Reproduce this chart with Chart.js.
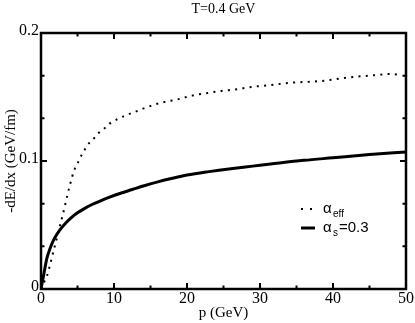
<!DOCTYPE html>
<html>
<head>
<meta charset="utf-8">
<script src="https://cdn.jsdelivr.net/npm/chart.js@4/dist/chart.umd.min.js"></script>
<style>
  body { margin: 0; background: #fff; }
  #wrap { width: 415px; height: 323px; }
</style>
</head>
<body>
<div id="wrap"><canvas id="lossChart" width="415" height="323"></canvas></div>
<script>
// energy loss at T=0.4 GeV
const pSolid = [0, 0.4, 0.8, 1.2, 1.7, 2.2, 2.7, 3.3, 4, 5, 6, 7, 8, 9.5, 11, 12.5, 14, 16, 18, 20, 23, 26, 29, 32, 36, 40, 45, 50];
const lossSolid = [0, 0.012, 0.024, 0.031, 0.038, 0.043, 0.047, 0.051, 0.055, 0.0595, 0.063, 0.066, 0.0685, 0.072, 0.075, 0.0777, 0.0805, 0.0837, 0.0865, 0.089, 0.0917, 0.094, 0.096, 0.098, 0.1005, 0.1025, 0.105, 0.107];

const pDotted = [0, 0.4, 0.8, 1.2, 1.6, 2.0, 2.4, 2.8, 3.2, 3.6, 4.0, 4.5, 5.0, 5.5, 6.0, 6.6, 7.3, 8.0, 8.8, 9.6, 10.6, 11.6, 12.6, 14.5, 16.5, 18.6, 20.6, 22.7, 24.7, 26.8, 29, 31, 34, 38.4, 42.5, 45.7, 47.7, 49.3];
const lossDotted = [0, 0.005, 0.010, 0.018, 0.027, 0.036, 0.045, 0.054, 0.063, 0.073, 0.082, 0.092, 0.098, 0.104, 0.109, 0.114, 0.118, 0.1225, 0.126, 0.130, 0.133, 0.1357, 0.1378, 0.142, 0.1456, 0.148, 0.151, 0.153, 0.1547, 0.156, 0.158, 0.159, 0.161, 0.1625, 0.1655, 0.167, 0.168, 0.1672];

const xTickLabels = [0, 10, 20, 30, 40, 50];
const xMinorTicks = [5, 15, 25, 35, 45];
const yTickLabels = [0, 0.1, 0.2];
const yMinorTicks = [0.2 / 6, 0.4 / 6, 0.8 / 6, 1.0 / 6];

const serif = '"Liberation Serif", "DejaVu Serif", serif';
const sans = '"Liberation Sans", Arial, sans-serif';

function toPoints(xs, ys) {
    return xs.map(function(x, i) { return { x: x, y: ys[i] }; });
}

// frame, inward ticks, labels and legend, drawn with the chart's scales
const framePlugin = {
    id: 'frame',
    afterDraw: function(chart) {
        const ctx = chart.ctx;
        const a = chart.chartArea;
        const xs = chart.scales.x;
        const ys = chart.scales.y;
        ctx.save();
        ctx.strokeStyle = '#000';
        ctx.lineWidth = 2.5;
        ctx.strokeRect(a.left, a.top, a.right - a.left, a.bottom - a.top);

        ctx.lineWidth = 2;
        function xTick(v, len) {
            const px = xs.getPixelForValue(v);
            ctx.beginPath();
            ctx.moveTo(px, a.bottom); ctx.lineTo(px, a.bottom - len);
            ctx.moveTo(px, a.top); ctx.lineTo(px, a.top + len);
            ctx.stroke();
        }
        function yTick(v, len) {
            const py = ys.getPixelForValue(v);
            ctx.beginPath();
            ctx.moveTo(a.left, py); ctx.lineTo(a.left + len, py);
            ctx.moveTo(a.right, py); ctx.lineTo(a.right - len, py);
            ctx.stroke();
        }
        xTickLabels.forEach(function(v) { xTick(v, 6); });
        xMinorTicks.forEach(function(v) { xTick(v, 3.5); });
        yTickLabels.forEach(function(v) { yTick(v, 6); });
        yMinorTicks.forEach(function(v) { yTick(v, 3.5); });

        ctx.fillStyle = '#000';
        ctx.font = '16px ' + serif;
        ctx.textAlign = 'center';
        ctx.textBaseline = 'top';
        xTickLabels.forEach(function(v) {
            ctx.fillText(String(v), xs.getPixelForValue(v), a.bottom + 2);
        });
        ctx.textAlign = 'right';
        ctx.textBaseline = 'middle';
        yTickLabels.forEach(function(v) {
            ctx.fillText(String(v), a.left - 2, ys.getPixelForValue(v) - 2);
        });

        // titles
        ctx.font = '15px ' + serif;
        ctx.textAlign = 'center';
        ctx.textBaseline = 'middle';
        ctx.fillText('p (GeV)', (a.left + a.right) / 2, 313);
        ctx.font = '14px ' + serif;
        ctx.fillText('T=0.4 GeV', (a.left + a.right) / 2, 9);
        ctx.save();
        ctx.translate(11, (a.top + a.bottom) / 2);
        ctx.rotate(-Math.PI / 2);
        ctx.font = '15px ' + serif;
        ctx.fillText('-dE/dx (GeV/fm)', 0, 0);
        ctx.restore();

        // legend
        ctx.setLineDash([2, 7]);
        ctx.lineWidth = 2;
        ctx.beginPath();
        ctx.moveTo(301, 209); ctx.lineTo(313, 209);
        ctx.stroke();
        ctx.setLineDash([]);
        ctx.lineWidth = 3;
        ctx.beginPath();
        ctx.moveTo(301, 228); ctx.lineTo(315, 228);
        ctx.stroke();

        ctx.textAlign = 'left';
        ctx.textBaseline = 'alphabetic';
        ctx.font = '15px ' + sans;
        ctx.fillText('\u03b1', 323, 213);
        ctx.font = '10px ' + sans;
        ctx.fillText('eff', 333, 217);
        ctx.font = '15px ' + sans;
        ctx.fillText('\u03b1', 323, 232);
        ctx.font = '10px ' + sans;
        ctx.fillText('s', 333, 236);
        ctx.font = '15px ' + sans;
        ctx.fillText('=0.3', 339, 232);
        ctx.restore();
    }
};

const lossCtx = document.getElementById('lossChart');
new Chart(lossCtx, {
    type: 'line',
    data: {
        datasets: [{
            label: 'alpha_eff',
            data: toPoints(pDotted, lossDotted),
            borderColor: '#000',
            borderWidth: 2,
            borderDash: [2, 5.3],
            borderCapStyle: 'butt',
            pointRadius: 0,
            fill: false,
            cubicInterpolationMode: 'monotone'
        }, {
            label: 'alpha_s=0.3',
            data: toPoints(pSolid, lossSolid),
            borderColor: '#000',
            borderWidth: 3,
            pointRadius: 0,
            fill: false,
            cubicInterpolationMode: 'monotone'
        }]
    },
    options: {
        responsive: false,
        animation: false,
        layout: {
            padding: { left: 41, right: 9, top: 33, bottom: 34 }
        },
        plugins: {
            legend: { display: false },
            tooltip: { enabled: false }
        },
        scales: {
            x: { type: 'linear', min: 0, max: 50, display: false },
            y: { type: 'linear', min: 0, max: 0.2, display: false }
        }
    },
    plugins: [framePlugin]
});
</script>
</body>
</html>
